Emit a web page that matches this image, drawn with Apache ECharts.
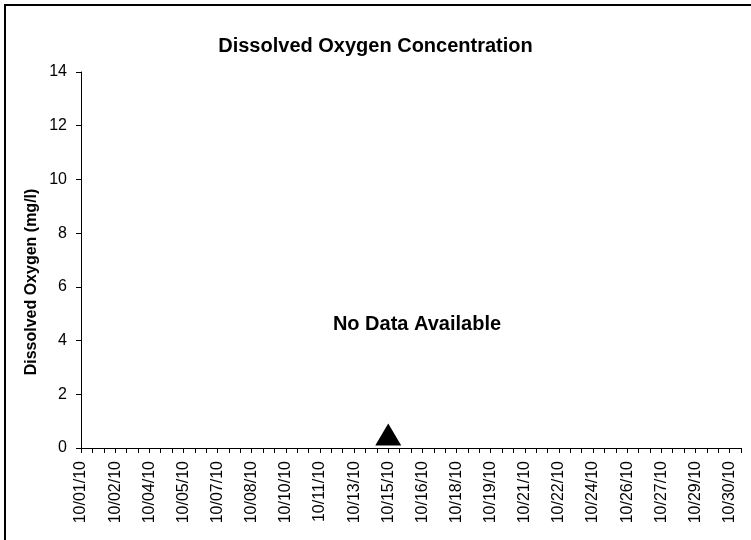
<!DOCTYPE html>
<html>
<head>
<meta charset="utf-8">
<script src="https://cdn.jsdelivr.net/npm/echarts@6/dist/echarts.min.js"></script>
<style>
  html, body { margin: 0; padding: 0; background: #fff; }
  #chart { width: 751px; height: 540px; }
</style>
</head>
<body>
<div id="chart"></div>
<script>
// tick labels shown every third category on the x axis
const tickLabels = ['10/01/10', '10/02/10', '10/04/10', '10/05/10', '10/07/10', '10/08/10',
  '10/10/10', '10/11/10', '10/13/10', '10/15/10', '10/16/10', '10/18/10', '10/19/10',
  '10/21/10', '10/22/10', '10/24/10', '10/26/10', '10/27/10', '10/29/10', '10/30/10']
const categoryCount = 59
const labelStep = 3

// the only mark on the chart
const markerDate = '10/15/10'
const markerValue = 0.5

const yTicks = [0, 2, 4, 6, 8, 10, 12, 14]

const titleText = 'Dissolved Oxygen Concentration'
const yName = 'Dissolved Oxygen (mg/l)'
const noDataText = 'No Data Available'

// categories: labelled every third slot, unlabelled in between
const categories = []
for (let i = 0; i < categoryCount; i++) {
  categories.push(i % labelStep === 0 && tickLabels[i / labelStep] ? tickLabels[i / labelStep] : '')
}

const font = 'Arial, "Liberation Sans", sans-serif'
const myChart = echarts.init(document.getElementById('chart'))

const option = {
  animation: false,
  backgroundColor: '#fff',
  title: {
    text: titleText,
    left: 'center',
    top: 31,
    textStyle: { fontFamily: font, fontSize: 20, fontWeight: 'bold', color: '#000' }
  },
  grid: { left: 81, right: 10, top: 72, bottom: 92, containLabel: false },
  xAxis: {
    type: 'category',
    data: categories,
    boundaryGap: false,
    axisLine: { lineStyle: { color: '#000', width: 1 } },
    axisTick: { show: true, interval: 0, length: 5, lineStyle: { color: '#000' } },
    axisLabel: {
      interval: 0,
      rotate: 90,
      margin: 13,
      fontFamily: font,
      fontSize: 16,
      color: '#000'
    },
    splitLine: { show: false }
  },
  yAxis: {
    type: 'value',
    min: yTicks[0],
    max: yTicks[yTicks.length - 1],
    interval: 2,
    axisLine: { show: true, lineStyle: { color: '#000', width: 1 } },
    axisTick: { show: true, length: 5, lineStyle: { color: '#000' } },
    axisLabel: { margin: 14, fontFamily: font, fontSize: 16, color: '#000' },
    splitLine: { show: false }
  },
  graphic: [
    {
      type: 'rect',
      shape: { x: 5, y: 5, width: 800, height: 600 },
      style: { fill: 'none', stroke: '#000', lineWidth: 2 },
      silent: true
    },
    {
      type: 'text',
      x: 32,
      y: 282,
      rotation: Math.PI / 2,
      style: {
        text: yName,
        fontFamily: font,
        fontSize: 16,
        fontWeight: 'bold',
        fill: '#000',
        align: 'center',
        verticalAlign: 'middle'
      }
    },
    {
      type: 'text',
      x: 417,
      y: 324,
      style: {
        text: noDataText,
        fontFamily: font,
        fontSize: 20,
        fontWeight: 'bold',
        fill: '#000',
        align: 'center',
        verticalAlign: 'middle'
      }
    }
  ],
  series: [
    {
      type: 'scatter',
      data: [[categories.indexOf(markerDate), markerValue]],
      symbol: 'triangle',
      symbolSize: [26, 22],
      itemStyle: { color: '#000', opacity: 1 }
    }
  ]
}

myChart.setOption(option)
</script>
</body>
</html>
